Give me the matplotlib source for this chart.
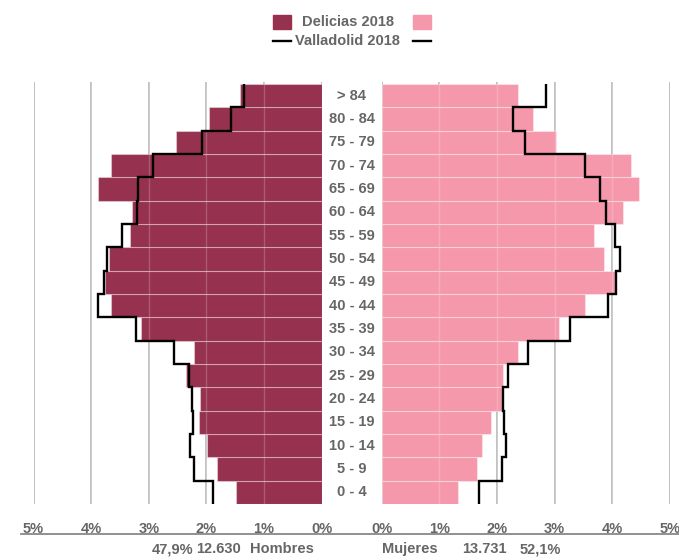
import matplotlib
matplotlib.use("Agg")
import matplotlib.pyplot as plt
from matplotlib.patches import Rectangle
from matplotlib.lines import Line2D
from matplotlib.transforms import blended_transform_factory
import numpy as np

plt.rcParams['font.family'] = ['Liberation Sans', 'DejaVu Sans']

# age groups, bottom to top
grupos = ["0 - 4", "5 - 9", "10 - 14", "15 - 19", "20 - 24", "25 - 29", "30 - 34",
          "35 - 39", "40 - 44", "45 - 49", "50 - 54", "55 - 59", "60 - 64",
          "65 - 69", "70 - 74", "75 - 79", "80 - 84", "> 84"]

# Delicias 2018 (% of total population)
delicias_h = [1.48, 1.82, 1.99, 2.13, 2.11, 2.36, 2.21, 3.13, 3.66, 3.76,
              3.69, 3.32, 3.29, 3.88, 3.66, 2.53, 1.95, 1.42]
delicias_m = [1.32, 1.65, 1.74, 1.90, 2.09, 2.10, 2.36, 3.08, 3.52, 4.06,
              3.86, 3.69, 4.18, 4.46, 4.32, 3.02, 2.62, 2.36]

# Valladolid 2018 (% of total population)
valladolid_h = [1.88, 2.21, 2.29, 2.23, 2.25, 2.30, 2.56, 3.22, 3.88, 3.77,
                3.72, 3.47, 3.21, 3.19, 2.92, 2.08, 1.57, 1.34]
valladolid_m = [1.68, 2.09, 2.16, 2.12, 2.11, 2.19, 2.54, 3.27, 3.92, 4.07,
                4.14, 4.05, 3.89, 3.78, 3.52, 2.49, 2.27, 2.85]

ticks = [0, 1, 2, 3, 4, 5]
tick_labels = ["0%", "1%", "2%", "3%", "4%", "5%"]

totales_h = ["47,9%", "12.630", "Hombres"]
totales_m = ["Mujeres", "13.731", "52,1%"]

c_h = "#96314F"
c_m = "#F598AB"
gris = "#666666"
gris_grid = "#b4b4b4"
fs = 10.5

W, H = 679, 557
fig = plt.figure(figsize=(W / 100, H / 100), dpi=100)

ax_h = fig.add_axes([33.5 / W, 1 - 504 / H, 288.2 / W, 422 / H])
ax_m = fig.add_axes([381.7 / W, 1 - 504 / H, 288.3 / W, 422 / H])

y = np.arange(len(grupos))
edges = np.arange(len(grupos) + 1) - 0.5

for ax, vals, vall, col in [(ax_h, delicias_h, valladolid_h, c_h),
                            (ax_m, delicias_m, valladolid_m, c_m)]:
    ax.set_axisbelow(True)
    ax.grid(axis='x', color=gris_grid, lw=1.2)
    ax.barh(y, vals, height=1.0, color=col, edgecolor=(1, 1, 1, 0.35), lw=0.8, zorder=2)
    for t in ticks[1:-1]:
        ax.axvline(t, color=(1, 1, 1, 0.2), lw=1.0, zorder=3)
    ax.stairs(vall, edges, orientation='horizontal', baseline=None,
              color='black', lw=1.7, zorder=4)
    ax.set_ylim(-0.5, len(grupos) - 0.5 + 0.08)
    ax.set_xticks(ticks)
    ax.set_xticklabels(tick_labels, fontsize=fs, fontweight='bold', color=gris)
    ax.tick_params(axis='x', length=0, pad=13)
    ax.set_yticks([])
    for s in ax.spines.values():
        s.set_visible(False)

ax_h.set_xlim(5, 0)
ax_m.set_xlim(0, 5)

# age labels in the centre
tr = blended_transform_factory(fig.transFigure, ax_h.transData)
for i, g in enumerate(grupos):
    fig.text(351.7 / W, i, g, transform=tr, ha='center', va='center',
             fontsize=fs, fontweight='bold', color=gris)

# bottom rule and totals
fig.add_artist(Line2D([21 / W, 1], [1 - 534 / H] * 2, color="#888888", lw=1.3))
yb = 1 - 549 / H
for xp, t in zip([173, 218, 282], totales_h):
    fig.text(xp / W, yb, t, ha='center', va='center', fontsize=fs,
             fontweight='bold', color=gris)
for xp, t in zip([410, 484, 540], totales_m):
    fig.text(xp / W, yb, t, ha='center', va='center', fontsize=fs,
             fontweight='bold', color=gris)

# legend
y1 = 1 - 22 / H
y2 = 1 - 41 / H
fig.add_artist(Rectangle((273 / W, 1 - 29 / H), 18 / W, 14 / H, color=c_h,
                         transform=fig.transFigure))
fig.add_artist(Rectangle((413 / W, 1 - 29 / H), 18 / W, 14 / H, color=c_m,
                         transform=fig.transFigure))
fig.text(348.5 / W, y1, "Delicias 2018", ha='center', va='center', fontsize=fs,
         fontweight='bold', color=gris)
fig.add_artist(Line2D([273 / W, 291 / W], [y2, y2], color='black', lw=1.7))
fig.add_artist(Line2D([413 / W, 431 / W], [y2, y2], color='black', lw=1.7))
fig.text(347 / W, y2, "Valladolid 2018", ha='center', va='center', fontsize=fs,
         fontweight='bold', color=gris)

fig.savefig("out.png", dpi=100)
